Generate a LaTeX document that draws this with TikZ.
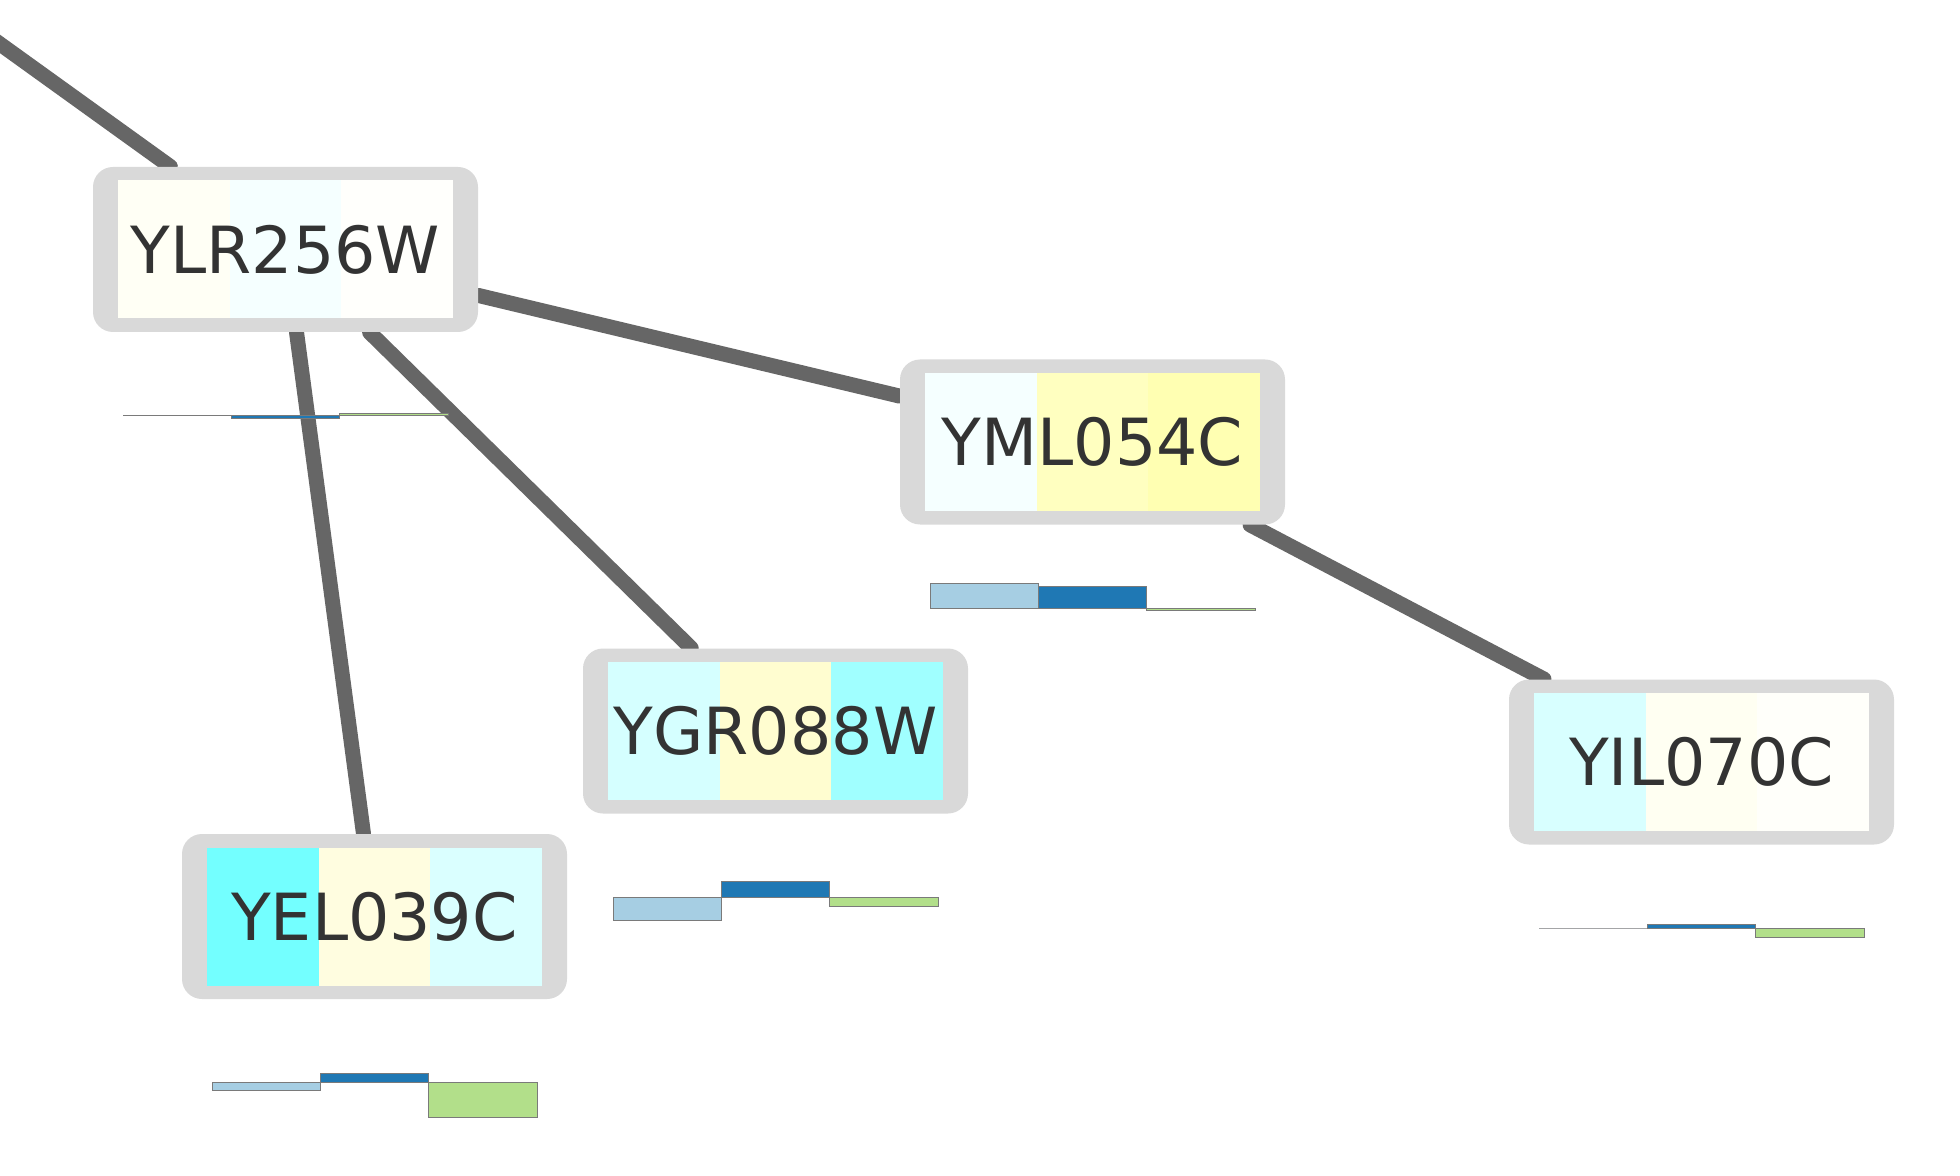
\documentclass[tikz,border=0pt]{standalone}
\usepackage{fontspec}
\newfontfamily\genefont{DejaVu Sans}
\pgfdeclarelayer{bottom}
\pgfdeclarelayer{background}
\pgfsetlayers{bottom,background,main}
\definecolor{boxgray}{HTML}{D9D9D9}
\definecolor{edgegray}{HTML}{666666}
\definecolor{txtgray}{HTML}{333333}
\definecolor{barline}{HTML}{7A7A7A}
\definecolor{barA}{HTML}{A6CEE3}
\definecolor{barB}{HTML}{1F78B4}
\definecolor{barC}{HTML}{B2DF8A}
\definecolor{ylrA}{HTML}{FFFFF5}
\definecolor{ylrB}{HTML}{F5FFFF}
\definecolor{ylrC}{HTML}{FFFFFC}
\definecolor{ymlA}{HTML}{F5FFFF}
\definecolor{ymlB}{HTML}{FFFFC0}
\definecolor{ymlC}{HTML}{FFFFB2}
\definecolor{ygrA}{HTML}{D5FFFF}
\definecolor{ygrB}{HTML}{FFFDD0}
\definecolor{ygrC}{HTML}{A0FFFF}
\definecolor{yelA}{HTML}{73FFFF}
\definecolor{yelB}{HTML}{FFFDE0}
\definecolor{yelC}{HTML}{DAFFFF}
\definecolor{yilA}{HTML}{D8FFFF}
\definecolor{yilB}{HTML}{FFFFF2}
\definecolor{yilC}{HTML}{FFFFFA}
\tikzset{
  gbox/.style={rectangle, fill=boxgray, draw=none, rounded corners=10pt,
    minimum width=192.5pt, minimum height=82.5pt, inner sep=0pt},
  glabel/.style={font=\genefont\fontsize{32.5}{39}\selectfont, text=txtgray, inner sep=0pt},
  gedge/.style={draw=edgegray, line width=7.5pt, line cap=round},
  gbar/.style={draw=barline, line width=0.3pt}
}
% cells: node name (colours nameA, nameB, nameC)
\newcommand\genecells[1]{%
  \begin{scope}[shift={(#1.center)}]
    \fill[fill=#1A] (-167.5,-69) rectangle (-55.8,69);
    \fill[fill=#1B] (-55.8,-69) rectangle (55.8,69);
    \fill[fill=#1C] (55.8,-69) rectangle (167.5,69);
  \end{scope}}
% bars: node name, v1, v2, v3 (px, positive = up)
\newcommand\genebars[4]{%
  \begin{scope}[shift={(#1.center)}]
    \filldraw[gbar, fill=barA] (-162.5,166) rectangle (-54.2,166-#2);
    \filldraw[gbar, fill=barB] (-54.2,166) rectangle (54.2,166-#3);
    \filldraw[gbar, fill=barC] (54.2,166) rectangle (162.5,166-#4);
  \end{scope}}
\begin{document}
\begin{tikzpicture}[x=0.5pt, y=-0.5pt]
\useasboundingbox (0,0) rectangle (1960,1176);
\begin{pgfonlayer}{bottom}
\fill[white] (0,0) rectangle (1960,1176);
\end{pgfonlayer}

% gene boxes
\node[gbox] (ylr) at (285.5,249.5) {};
\node[gbox] (yml) at (1092.5,442) {};
\node[gbox] (ygr) at (775.5,731) {};
\node[gbox] (yel) at (374.5,916.5) {};
\node[gbox] (yil) at (1701.5,762) {};
\coordinate (off) at (-200,-100);

\genecells{ylr}
\genecells{yml}
\genecells{ygr}
\genecells{yel}
\genecells{yil}

\node[glabel] (ylrt) at (ylr.center) {YLR256W};
\node[glabel] (ymlt) at (yml.center) {YML054C};
\node[glabel] (ygrt) at (ygr.center) {YGR088W};
\node[glabel] (yelt) at (yel.center) {YEL039C};
\node[glabel] (yilt) at (yil.center) {YIL070C};

\genebars{ylr}{0}{-2.5}{2.5}
\genebars{yml}{25}{22}{-2.5}
\genebars{ygr}{-23}{16}{-9}
\genebars{yel}{-8}{9}{-35}
\genebars{yil}{0}{4}{-9}

\begin{pgfonlayer}{background}
\draw[gedge] (off) -- (ylr);
\draw[gedge] (ylr) -- (yml);
\draw[gedge] (ylr) -- (ygr);
\draw[gedge] (ylr) -- (yel);
\draw[gedge] (yml) -- (yil);
\end{pgfonlayer}
\end{tikzpicture}
\end{document}
